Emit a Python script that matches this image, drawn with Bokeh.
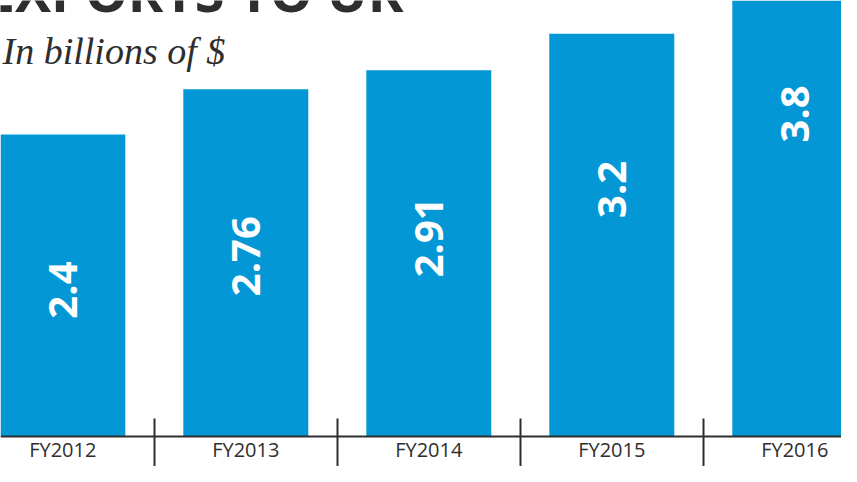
import math
from bokeh.plotting import figure
from bokeh.models import Range1d, LinearAxis, FixedTicker, Label, ColumnDataSource
from bokeh.embed import file_html
from bokeh.resources import INLINE
from bokeh.core.properties import value

# ---- data ----
title_text = "EXPORTS TO UK"
subtitle_text = "In billions of $"
categories = ["FY2012", "FY2013", "FY2014", "FY2015", "FY2016"]
values = [2.4, 2.76, 2.91, 3.2, 3.8]
value_labels = ["2.4", "2.76", "2.91", "3.2", "3.8"]

positions = list(range(len(categories)))
src = ColumnDataSource(dict(x=positions, top=values, label=value_labels))

BLUE = "#0397d6"
DARK = "#2e2e2e"

p = figure(width=841, height=466, output_backend="svg", toolbar_location=None,
           x_range=Range1d(-0.3404, 4.2552), y_range=Range1d(-0.2384, 3.4647),
           min_border=0, outline_line_color=None,
           x_axis_type=None, y_axis_type=None)
p.background_fill_color = "white"
p.border_fill_color = "white"

p.vbar(x="x", top="top", bottom=0, width=0.683, source=src,
       fill_color=BLUE, line_color=None)

p.text(x="x", y="top", text="label", source=src, angle=math.pi / 2,
       text_align="right", text_baseline="middle", y_offset=127,
       text_color="white", text_font=value("Open Sans"),
       text_font_style="bold", text_font_size="40px")

# axis with ticks between categories
between = [i + 0.5 for i in positions[:-1]]
tick_axis = LinearAxis(fixed_location=0, ticker=FixedTicker(ticks=between),
                       major_label_overrides={t: "" for t in between},
                       major_tick_in=18, major_tick_out=30,
                       minor_tick_line_color=None,
                       axis_line_color=DARK, axis_line_width=2,
                       major_tick_line_color=DARK, major_tick_line_width=2)
p.add_layout(tick_axis, "below")

label_axis = LinearAxis(fixed_location=0, ticker=FixedTicker(ticks=positions),
                        major_label_overrides={i: c for i, c in zip(positions, categories)},
                        major_tick_in=0, major_tick_out=0,
                        minor_tick_line_color=None, axis_line_color=None,
                        major_label_standoff=0,
                        major_label_text_font="Open Sans",
                        major_label_text_font_size="20px",
                        major_label_text_color=DARK)
p.add_layout(label_axis, "below")

p.add_layout(Label(x=403, y=476, x_units="screen", y_units="screen",
                   text=title_text, text_align="right", text_baseline="alphabetic",
                   text_font="Open Sans", text_font_style="bold",
                   text_font_size="54px", text_color=DARK))
p.add_layout(Label(x=2, y=416, x_units="screen", y_units="screen",
                   text=subtitle_text, text_align="left", text_baseline="alphabetic",
                   text_font="Liberation Serif", text_font_style="italic",
                   text_font_size="38px", text_color=DARK))

open("out.html", "w").write(file_html(p, INLINE))
